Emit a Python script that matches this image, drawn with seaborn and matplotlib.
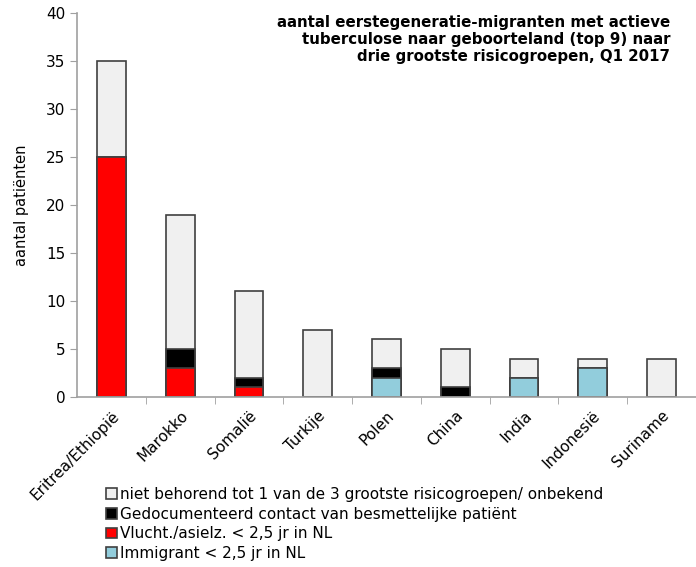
import numpy as np
import pandas as pd
import matplotlib
matplotlib.use("Agg")
import matplotlib.pyplot as plt
import seaborn as sns

landen = ["Eritrea/Ethiopië", "Marokko", "Somalië", "Turkije", "Polen",
          "China", "India", "Indonesië", "Suriname"]
vluchteling = [25, 3, 1, 0, 0, 0, 0, 0, 0]
immigrant = [0, 0, 0, 0, 2, 0, 2, 3, 0]
contact = [0, 2, 1, 0, 1, 1, 0, 0, 0]
overig = [10, 14, 9, 7, 3, 4, 2, 1, 4]

labels = ["niet behorend tot 1 van de 3 grootste risicogroepen/ onbekend",
          "Gedocumenteerd contact van besmettelijke patiënt",
          "Vlucht./asielz. < 2,5 jr in NL",
          "Immigrant < 2,5 jr in NL"]
kleuren = ["#f0f0f0", "#000000", "#ff0000", "#92cddc"]

df = pd.DataFrame({"land": landen, "vl": vluchteling, "im": immigrant,
                   "co": contact, "ov": overig})
df["tot"] = df["vl"] + df["im"] + df["co"] + df["ov"]
df["tot_co"] = df["vl"] + df["im"] + df["co"]

sns.set_style("white")
plt.rcParams["font.family"] = ["DejaVu Sans"]
plt.rcParams["text.color"] = "black"
plt.rcParams["axes.labelcolor"] = "black"
plt.rcParams["xtick.color"] = "black"
plt.rcParams["ytick.color"] = "black"

fig = plt.figure(figsize=(6.96, 5.67), dpi=100)
ax = fig.add_axes([77 / 696, 170 / 567, 619 / 696, 384 / 567])

bar_kw = dict(width=0.42, edgecolor="#404040", linewidth=1.2, ax=ax,
              order=landen, saturation=1)
sns.barplot(data=df, x="land", y="tot", color=kleuren[0], label=labels[0], **bar_kw)
sns.barplot(data=df, x="land", y="tot_co", color=kleuren[1], label=labels[1], **bar_kw)
sns.barplot(data=df, x="land", y="vl", color=kleuren[2], label=labels[2], **bar_kw)
sns.barplot(data=df, x="land", y="im", color=kleuren[3], label=labels[3], **bar_kw)

handles, lbls = ax.get_legend_handles_labels()
if ax.get_legend() is not None:
    ax.get_legend().remove()

ax.set_ylim(0, 40)
ax.set_xlim(-0.5, 8.43)
ax.set_yticks(range(0, 41, 5))
ax.set_xticks(np.arange(len(landen)))
ax.set_xticklabels(landen, rotation=45, ha="right", rotation_mode="anchor", fontsize=11)
ax.set_xticks(np.arange(len(landen)) + 0.5, minor=True)
ax.tick_params(axis="x", which="major", length=0, pad=8)
ax.tick_params(axis="x", which="minor", length=5, color="#a0a0a0", direction="out", bottom=True)
ax.tick_params(axis="y", length=5, color="#a0a0a0", direction="out", left=True,
               labelsize=11, labelcolor="black")
ax.set_xlabel("")
ax.set_ylabel("aantal patiënten", fontsize=10.5, labelpad=12)
sns.despine(ax=ax)
for s in ["left", "bottom"]:
    ax.spines[s].set_color("#a0a0a0")
    ax.spines[s].set_linewidth(1.2)

fig.text(670 / 696, 1 - 15 / 567,
         "aantal eerstegeneratie-migranten met actieve\n"
         "tuberculose naar geboorteland (top 9) naar\n"
         "drie grootste risicogroepen, Q1 2017",
         ha="right", va="top", multialignment="right",
         fontsize=10.8, fontweight="bold", linespacing=1.15)

fig.legend(handles, lbls, loc="upper left", bbox_to_anchor=(100 / 696, 1 - 481 / 567),
           frameon=False, fontsize=11, handlelength=0.7, handleheight=0.7,
           handletextpad=0.2, labelspacing=0.3, borderaxespad=0)

fig.savefig("out.png", dpi=100)
